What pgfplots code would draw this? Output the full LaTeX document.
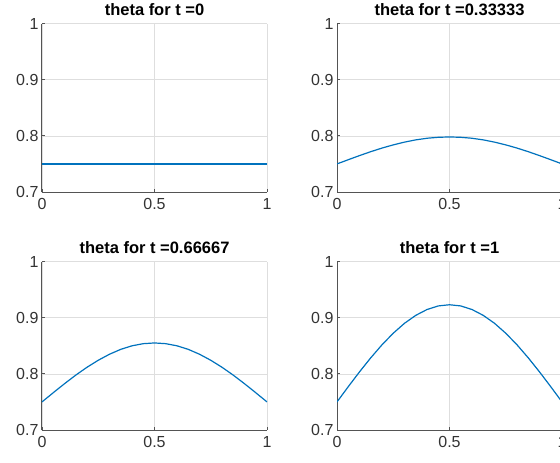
\documentclass[border=0pt]{standalone}
\usepackage{fontspec}
\setmainfont{Liberation Sans}
\usepackage{pgfplots}
\pgfplotsset{compat=1.18}
\definecolor{mblue}{rgb}{0,0.447,0.741}
\definecolor{mgrid}{rgb}{0.87,0.87,0.87}
\definecolor{maxis}{rgb}{0.33,0.33,0.33}
\pgfplotsset{every axis title/.style={at={(0.5,1)}, anchor=base, yshift=8pt, font=\fontsize{16.5}{19}\selectfont\bfseries}}
\pgfplotsset{msub/.style={
  scale only axis, width=225pt, height=168.5pt,
  xmin=0, xmax=1, ymin=0.7, ymax=1,
  xtick={0,0.5,1}, ytick={0.7,0.8,0.9,1},
  xticklabels={0,0.5,1}, yticklabels={0.7,0.8,0.9,1},
  axis lines*=left, axis line style={maxis, line width=1pt},
  grid=major, major grid style={mgrid, line width=0.6pt},
  tick align=inside, major tick length=3pt, tick style={maxis, line width=0.8pt},
  ticklabel style={font=\fontsize{16}{19}\selectfont, text=black!80},
  xticklabel style={yshift=-3pt},
  cycle list={{mblue, no markers}},
  every axis plot post/.append style={line width=1.2pt},
}}
\begin{document}
\begin{tikzpicture}
\path[use as bounding box, clip] (0pt,0pt) rectangle (560pt,-463pt);
\begin{axis}[msub, at={(42pt,-192pt)}, anchor=south west, title={theta for t =0}]
\addplot coordinates {(0,0.75) (0.25,0.75) (0.5,0.75) (0.75,0.75) (1,0.75)};
\end{axis}
\begin{axis}[msub, at={(337pt,-192pt)}, anchor=south west, title={theta for t =0.33333}]
\addplot coordinates {(0,0.75) (0.05,0.7575) (0.1,0.7648) (0.15,0.7718) (0.2,0.7782) (0.25,0.7839) (0.3,0.7888) (0.35,0.7928) (0.4,0.7957) (0.45,0.7974) (0.5,0.798) (0.55,0.7974) (0.6,0.7957) (0.65,0.7928) (0.7,0.7888) (0.75,0.7839) (0.8,0.7782) (0.85,0.7718) (0.9,0.7648) (0.95,0.7575) (1,0.75)};
\end{axis}
\begin{axis}[msub, at={(42pt,-430pt)}, anchor=south west, title={theta for t =0.66667}]
\addplot coordinates {(0,0.75) (0.05,0.7664) (0.1,0.7824) (0.15,0.7977) (0.2,0.8117) (0.25,0.8242) (0.3,0.8349) (0.35,0.8436) (0.4,0.8499) (0.45,0.8537) (0.5,0.855) (0.55,0.8537) (0.6,0.8499) (0.65,0.8436) (0.7,0.8349) (0.75,0.8242) (0.8,0.8117) (0.85,0.7977) (0.9,0.7824) (0.95,0.7664) (1,0.75)};
\end{axis}
\begin{axis}[msub, at={(337pt,-430pt)}, anchor=south west, title={theta for t =1}]
\addplot coordinates {(0,0.75) (0.05,0.7771) (0.1,0.8035) (0.15,0.8285) (0.2,0.8517) (0.25,0.8723) (0.3,0.8900) (0.35,0.9041) (0.4,0.9145) (0.45,0.9209) (0.5,0.923) (0.55,0.9209) (0.6,0.9145) (0.65,0.9041) (0.7,0.8900) (0.75,0.8723) (0.8,0.8517) (0.85,0.8285) (0.9,0.8035) (0.95,0.7771) (1,0.75)};
\end{axis}
\end{tikzpicture}
\end{document}
